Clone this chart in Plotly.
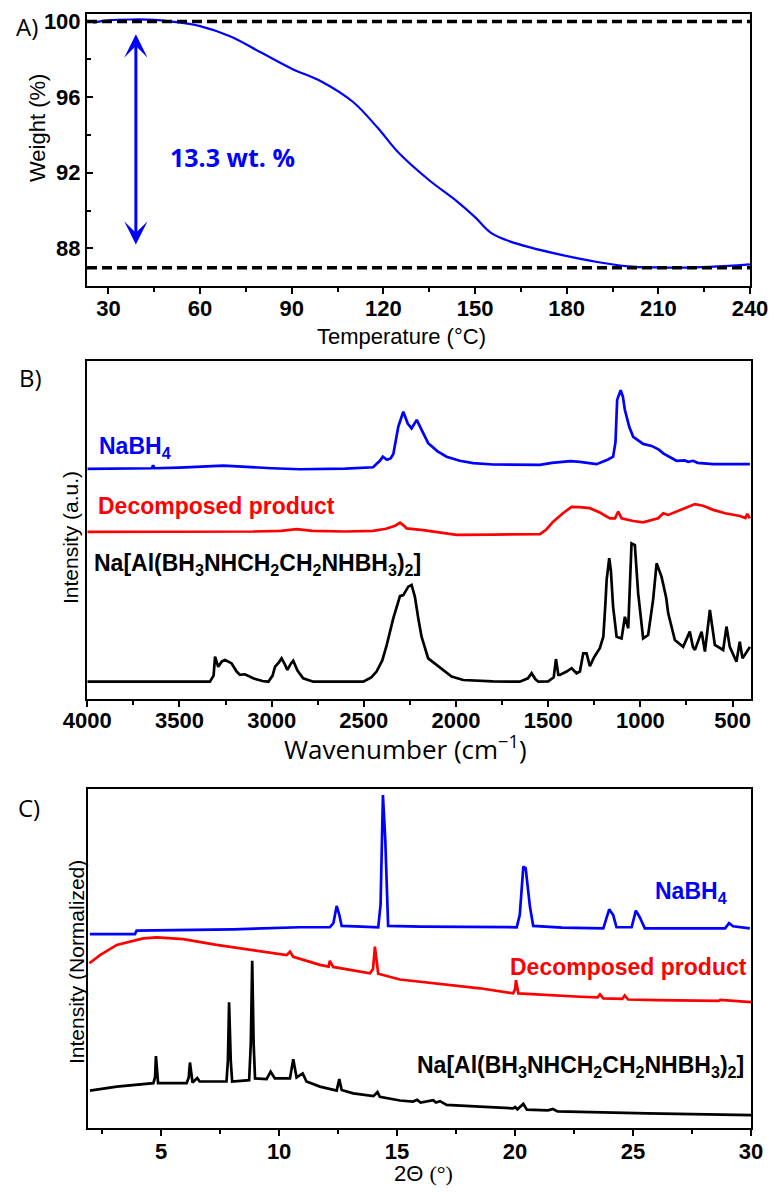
import plotly.graph_objects as go

W_PX, H_PX = 784, 1198

# ---------------- Panel A: TGA ----------------
tga_temp = [25, 30, 38, 45, 50, 60, 70, 80, 90, 100, 110, 118, 125, 135, 144, 150, 155, 160,
            168, 179, 190, 200, 210, 222, 233, 240]
tga_weight = [99.93, 100.05, 100.1, 100.08, 100.0, 99.75, 99.2, 98.35, 97.5, 96.8, 95.75, 94.4,
              93.05, 91.6, 90.5, 89.65, 88.85, 88.45, 88.05, 87.63, 87.28, 87.05, 86.99, 86.99,
              87.07, 87.15]
ref_levels = [100.0, 86.97]
arrow_temp = 39
arrow_span = [99.4, 88.2]
loss_label = "13.3 wt. %"

# ---------------- Panel B: FTIR ----------------
ir_nabh4_wn = [4000, 3800, 3650, 3643, 3636, 3500, 3263, 3000, 2846, 2600, 2450, 2413, 2397, 2375,
               2355, 2340, 2313, 2286, 2262, 2241, 2213, 2190, 2151, 2100, 2051, 1980, 1907, 1800,
               1690, 1545, 1480, 1437, 1380, 1328, 1238, 1175, 1148, 1135, 1126, 1107, 1095, 1084,
               1060, 1039, 985, 939, 900, 876, 840, 804, 760, 740, 714, 690, 605, 500, 406]
ir_nabh4_int = [68.1, 68.2, 68.3, 69.2, 68.3, 68.5, 69.1, 68.3, 68.0, 68.2, 68.6, 70.5, 71.7, 70.8,
                71.2, 72.5, 80.6, 85.0, 81.5, 80.1, 82.6, 80.0, 75.7, 73.3, 71.7, 70.5, 69.8, 69.4,
                69.3, 69.3, 69.9, 70.2, 70.4, 70.2, 69.5, 70.9, 71.7, 76.0, 88.5, 91.4, 89.5, 85.5,
                80.5, 77.6, 75.5, 74.9, 73.8, 72.7, 71.5, 70.5, 70.6, 70.2, 70.5, 69.9, 69.5, 69.5,
                69.5]

ir_dec_wn = [4000, 3700, 3400, 3100, 2950, 2864, 2780, 2600, 2450, 2380, 2330, 2304, 2280, 2268,
             2178, 2100, 1997, 1800, 1545, 1510, 1473, 1420, 1373, 1330, 1274, 1220, 1165, 1138,
             1120, 1102, 1040, 985, 930, 904, 876, 849, 780, 704, 660, 605, 540, 460, 430, 420, 406]
ir_dec_int = [49.5, 49.5, 49.6, 49.6, 49.8, 50.3, 49.8, 49.6, 49.8, 50.4, 51.3, 52.2, 51.2, 50.5,
              50.0, 49.3, 48.6, 48.7, 48.8, 50.2, 52.5, 55.0, 56.9, 56.8, 56.5, 55.2, 53.5, 53.5,
              55.5, 53.5, 52.7, 52.3, 53.0, 53.5, 55.0, 54.5, 56.0, 57.7, 57.2, 56.0, 55.0, 54.2,
              53.6, 54.8, 53.5]

ir_cmp_wn = [4000, 3700, 3500, 3335, 3315, 3307, 3290, 3270, 3253, 3230, 3217, 3190, 3172, 3145,
             3100, 3050, 3018, 2995, 2982, 2960, 2946, 2930, 2915, 2895, 2883, 2860, 2829, 2774,
             2600, 2503, 2460, 2431, 2400, 2376, 2340, 2304, 2286, 2259, 2241, 2223, 2205, 2187,
             2151, 2120, 2087, 2050, 2024, 1961, 1800, 1654, 1610, 1590, 1570, 1554, 1500, 1470,
             1458, 1445, 1437, 1400, 1373, 1346, 1328, 1310, 1292, 1274, 1250, 1220, 1201, 1190,
             1183, 1169, 1160, 1148, 1129, 1102, 1084, 1066, 1055, 1048, 1030, 1012, 985, 958,
             931, 912, 885, 873, 860, 849, 813, 768, 732, 715, 704, 668, 650, 623, 596, 551, 533,
             515, 479, 461, 446, 406]
ir_cmp_int = [5.2, 5.1, 5.2, 5.2, 7.0, 12.6, 9.6, 11.2, 11.6, 11.0, 10.6, 8.2, 7.2, 7.4,
              6.2, 5.4, 5.2, 7.0, 9.6, 11.0, 12.1, 10.5, 8.7, 10.6, 11.4, 8.5, 6.2, 5.2,
              5.1, 5.2, 6.5, 8.2, 11.5, 16.0, 24.0, 30.5, 30.8, 33.3, 33.8, 30.3, 24.0, 18.5,
              12.1, 10.8, 9.6, 7.8, 6.7, 5.7, 5.3, 5.2, 6.2, 7.7, 6.0, 5.2, 5.3, 6.5,
              11.9, 7.2, 7.2, 8.2, 9.2, 7.7, 8.2, 13.6, 13.6, 9.8, 12.5, 15.1, 18.5, 28.0,
              35.3, 41.7, 38.0, 27.4, 18.5, 18.0, 24.4, 21.0, 35.0, 46.1, 45.6, 31.3, 18.0, 19.0,
              29.4, 40.2, 36.2, 33.3, 30.0, 25.4, 17.5, 15.5, 20.0, 15.5, 14.6, 20.0, 14.1, 26.4,
              16.1, 14.6, 21.5, 15.5, 11.1, 17.0, 12.1, 15.5]

# ---------------- Panel C: XRD ----------------
xrd_nabh4_2t = [1.98, 3.0, 3.89, 3.96, 5.0, 8.06, 10.88, 12.15, 12.3, 12.44, 12.55, 12.65, 13.5,
                14.2, 14.3, 14.4, 14.5, 14.62, 16.0, 18.0, 20.07, 20.2, 20.35, 20.45, 20.63, 20.77,
                22.0, 23.74, 23.99, 24.16, 24.3, 24.94, 25.12, 25.29, 25.5, 27.0, 28.9, 29.07,
                29.24, 29.95]
xrd_nabh4_int = [57.3, 57.3, 57.3, 58.3, 58.4, 58.7, 59.3, 59.3, 60.5, 65.6, 63.0, 59.7, 59.5,
                 59.3, 66.0, 98.3, 85.0, 59.7, 59.5, 59.4, 59.3, 63.0, 77.2, 76.7, 65.4, 59.7,
                 59.2, 59.0, 64.6, 62.9, 59.3, 59.3, 64.2, 62.2, 59.0, 59.0, 59.0, 60.5,
                 59.6, 59.0]

xrd_dec_2t = [1.96, 2.41, 3.12, 4.24, 4.81, 5.94, 7.35, 8.76, 10.32, 10.46, 10.6, 11.73, 12.1,
              12.15, 12.29, 13.85, 13.98, 14.06, 14.14, 14.2, 15.12, 15.68, 18.51, 19.92, 20.0,
              20.04, 20.14, 22.75, 23.5, 23.6, 23.74, 24.55, 24.65, 24.79, 26.0, 28.63, 28.7, 30.0]
xrd_dec_int = [48.7, 51.1, 54.1, 56.0, 56.3, 55.8, 54.1, 52.6, 51.1, 52.1, 50.6, 48.2, 47.7,
               49.4, 47.6, 45.7, 47.0, 53.6, 49.0, 45.6, 43.9, 43.5, 41.3, 39.8, 41.0,
               43.7, 39.8, 38.8, 38.6, 39.5, 38.3, 38.2, 39.2, 38.0, 37.8, 37.6, 37.9, 37.2]

xrd_cmp_2t = [1.98, 3.12, 4.67, 4.74, 4.78, 4.84, 4.87, 6.08, 6.17, 6.22, 6.28, 6.33, 6.53, 6.63,
              7.77, 7.83, 7.88, 7.95, 8.01, 8.73, 8.8, 8.86, 8.92, 8.98, 9.47, 9.64, 9.82, 10.46,
              10.6, 10.74, 11.0, 11.16, 11.73, 12.44, 12.55, 12.65, 13.14, 14.0, 14.17, 14.27,
              15.12, 15.68, 15.85, 16.0, 16.53, 16.65, 16.82, 17.1, 18.51, 19.92, 20.0, 20.1,
              20.35, 20.5, 21.4, 21.6, 21.8, 22.75, 25.6, 30.0]
xrd_cmp_int = [11.1, 12.3, 13.3, 15.0, 21.3, 14.0, 13.3, 13.3, 15.0, 19.4, 15.0, 13.5, 14.8, 13.8,
               13.8, 20.0, 37.2, 20.0, 13.8, 14.2, 25.0, 49.4, 25.0, 14.7, 14.5, 16.7, 14.7, 14.7,
               20.4, 15.0, 16.2, 13.8, 12.3, 11.1, 14.5, 11.3, 10.3, 9.5, 10.7, 9.3,
               8.2, 7.9, 8.4, 7.6, 8.3, 7.6, 8.0, 6.9, 6.4, 5.9, 6.3, 5.6,
               7.2, 5.5, 5.3, 5.7, 5.0, 4.9, 4.4, 3.9]

BLUE, RED, BLACK = "#0000FF", "#FF0000", "#000000"
SANS = "Liberation Sans"
OPEN = "Open Sans"


def px(x):
    return x / W_PX


def py(y):
    return 1 - y / H_PX


fig = go.Figure()

# Panel A
fig.add_trace(go.Scatter(x=tga_temp, y=tga_weight, mode="lines", line=dict(color=BLUE, width=2.2, shape="spline"),
                         xaxis="x", yaxis="y", showlegend=False))
for lvl in ref_levels:
    fig.add_trace(go.Scatter(x=[23, 240], y=[lvl, lvl], mode="lines",
                             line=dict(color=BLACK, width=3.5, dash="10px,5px"),
                             xaxis="x", yaxis="y", showlegend=False))

# Panel B
for wn, val, col in [(ir_nabh4_wn, ir_nabh4_int, BLUE), (ir_dec_wn, ir_dec_int, RED), (ir_cmp_wn, ir_cmp_int, BLACK)]:
    fig.add_trace(go.Scatter(x=wn, y=val, mode="lines", line=dict(color=col, width=2.7),
                             xaxis="x2", yaxis="y2", showlegend=False))

# Panel C
for tt, val, col in [(xrd_nabh4_2t, xrd_nabh4_int, BLUE), (xrd_dec_2t, xrd_dec_int, RED), (xrd_cmp_2t, xrd_cmp_int, BLACK)]:
    fig.add_trace(go.Scatter(x=tt, y=val, mode="lines", line=dict(color=col, width=2.7),
                             xaxis="x3", yaxis="y3", showlegend=False))

tickfont = dict(family=SANS, size=22, color=BLACK, weight="bold")
axis_common = dict(showline=True, mirror=True, linewidth=2, linecolor=BLACK, showgrid=False,
                   zeroline=False, tickfont=tickfont, tickcolor=BLACK, tickwidth=2, automargin=False)

fig.update_layout(
    template="none",
    width=W_PX, height=H_PX, margin=dict(l=0, r=0, t=0, b=0, pad=0), autosize=False,
    plot_bgcolor="white", paper_bgcolor="white",
    xaxis=dict(domain=[px(87), px(750)], range=[23, 240], tick0=30, dtick=30, ticks="outside", ticklen=6,
               ticklabelstandoff=-4,
               minor=dict(dtick=15, tick0=30, ticks="outside", ticklen=4, tickwidth=1.5, tickcolor=BLACK),
               anchor="y", **axis_common),
    yaxis=dict(domain=[py(286), py(14)], range=[86.01, 100.39], tick0=88, dtick=4, ticks="inside", ticklen=6,
               minor=dict(dtick=2, tick0=88, ticks="inside", ticklen=4, tickwidth=1.5, tickcolor=BLACK),
               anchor="x", **axis_common),
    xaxis2=dict(domain=[px(87.3), px(751)], range=[4000, 400], tick0=500, dtick=500, ticks="outside", ticklen=6,
                ticklabelstandoff=-6,
                minor=dict(dtick=250, tick0=500, ticks="outside", ticklen=4, tickwidth=1.5, tickcolor=BLACK),
                anchor="y2", **axis_common),
    yaxis2=dict(domain=[py(699.3), py(361)], range=[0, 100], ticks="", showticklabels=False, anchor="x2",
                **axis_common),
    xaxis3=dict(domain=[px(88), px(751)], range=[1.9, 30], tick0=5, dtick=5, ticks="outside", ticklen=6,
                ticklabelstandoff=-4,
                minor=dict(dtick=2.5, tick0=5, ticks="outside", ticklen=4, tickwidth=1.5, tickcolor=BLACK),
                anchor="y3", **axis_common),
    yaxis3=dict(domain=[py(1128.3), py(789.3)], range=[0, 100], ticks="", showticklabels=False, anchor="x3",
                **axis_common),
)

ann = []


def text(t, x, y, size, color=BLACK, family=SANS, bold=False, xanchor="center", angle=0):
    ann.append(dict(text=t, x=px(x), y=py(y), xref="paper", yref="paper", showarrow=False,
                    xanchor=xanchor, yanchor="middle", textangle=angle,
                    font=dict(family=family, size=size, color=color, weight="bold" if bold else "normal")))


# panel letters
text("A)", 27, 26, 24, family=OPEN)
text("B)", 30, 377, 24, family=OPEN)
text("C)", 29, 807, 24, family=OPEN)

# axis titles
text("Weight (%)", 37, 128, 22, angle=-90)
text("Temperature (\u00b0C)", 401, 336, 22)
text("Intensity (a.u.)", 70, 538, 21, angle=-90)
text("Wavenumber (cm<sup>\u22121</sup>)", 405, 748, 26, family=OPEN)
text("Intensity (Normalized)", 76, 962, 21, angle=-90)
text("2\u0398 <span style='font-family:Liberation Serif'>(\u00b0)</span>", 423, 1173, 22)

# panel A annotation
text(loss_label, 232, 157, 25, color=BLUE, family=OPEN, bold=True)
ann.append(dict(x=arrow_temp, y=arrow_span[1], ax=arrow_temp, ay=arrow_span[0], xref="x", yref="y",
                axref="x", ayref="y", text="", showarrow=True, arrowside="end+start",
                arrowhead=3, startarrowhead=3, arrowwidth=3, arrowsize=1.3, startarrowsize=1.3,
                arrowcolor=BLUE, standoff=0, startstandoff=0))

cmp_label = "Na[Al(BH<sub>3</sub>NHCH<sub>2</sub>CH<sub>2</sub>NHBH<sub>3</sub>)<sub>2</sub>]"
# panel B labels
text("NaBH<sub>4</sub>", 97, 447, 23, color=BLUE, bold=True, xanchor="left")
text("Decomposed product", 96, 506, 23, color=RED, bold=True, xanchor="left")
text(cmp_label, 92, 564, 23, color=BLACK, bold=True, xanchor="left")
# panel C labels
text("NaBH<sub>4</sub>", 729, 892, 23, color=BLUE, bold=True, xanchor="right")
text("Decomposed product", 749, 967, 23, color=RED, bold=True, xanchor="right")
text(cmp_label, 746, 1066, 23, color=BLACK, bold=True, xanchor="right")

fig.update_layout(annotations=ann)
fig.write_html("out.html")
